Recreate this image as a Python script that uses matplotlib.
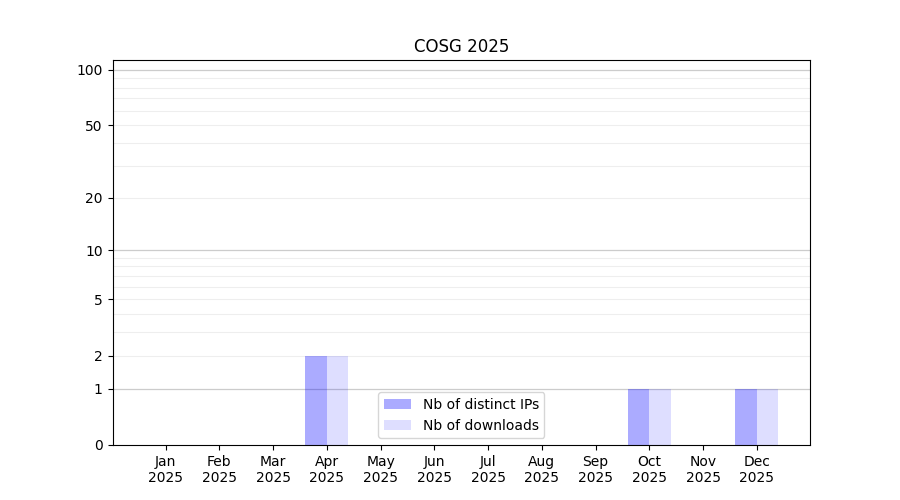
import numpy as np
import matplotlib
matplotlib.use("Agg")
import matplotlib.pyplot as plt
from matplotlib.ticker import FixedLocator, FixedFormatter

months = ["Jan", "Feb", "Mar", "Apr", "May", "Jun", "Jul", "Aug", "Sep", "Oct", "Nov", "Dec"]
year = "2025"
distinct_ips = [0, 0, 0, 2, 0, 0, 0, 0, 0, 1, 0, 1]
downloads = [0, 0, 0, 2, 0, 0, 0, 0, 0, 1, 0, 1]
major_ticks = [0, 1, 2, 5, 10, 20, 50, 100]

fig, ax = plt.subplots(figsize=(9, 5), dpi=100)

x = np.arange(len(months))
w = 0.4
ax.bar(x - w / 2, distinct_ips, w, color="blue", alpha=0.33, label="Nb of distinct IPs", zorder=2)
ax.bar(x + w / 2, downloads, w, color="blue", alpha=0.13, label="Nb of downloads", zorder=2)

def fwd(v):
    return np.log10(1 + np.clip(v, 0, None))

def inv(v):
    return 10 ** v - 1

ax.set_yscale("function", functions=(fwd, inv))
ax.set_ylim(0, 113)
ax.yaxis.set_major_locator(FixedLocator(major_ticks))
ax.yaxis.set_major_formatter(FixedFormatter([str(t) for t in major_ticks]))
ax.yaxis.set_minor_locator(FixedLocator([])) 

for g in [1, 10, 100]:
    ax.axhline(g, color="#cccccc", lw=0.9, zorder=1)
for g in list(range(2, 10)) + list(range(20, 100, 10)):
    ax.axhline(g, color="#eeeeee", lw=0.8, zorder=1)

ax.set_xticks(x)
ax.set_xticklabels([f"{m}\n{year}" for m in months])
ax.set_title(f"COSG {year}")
ax.legend(loc="lower center")

fig.savefig("out.png", dpi=100)
